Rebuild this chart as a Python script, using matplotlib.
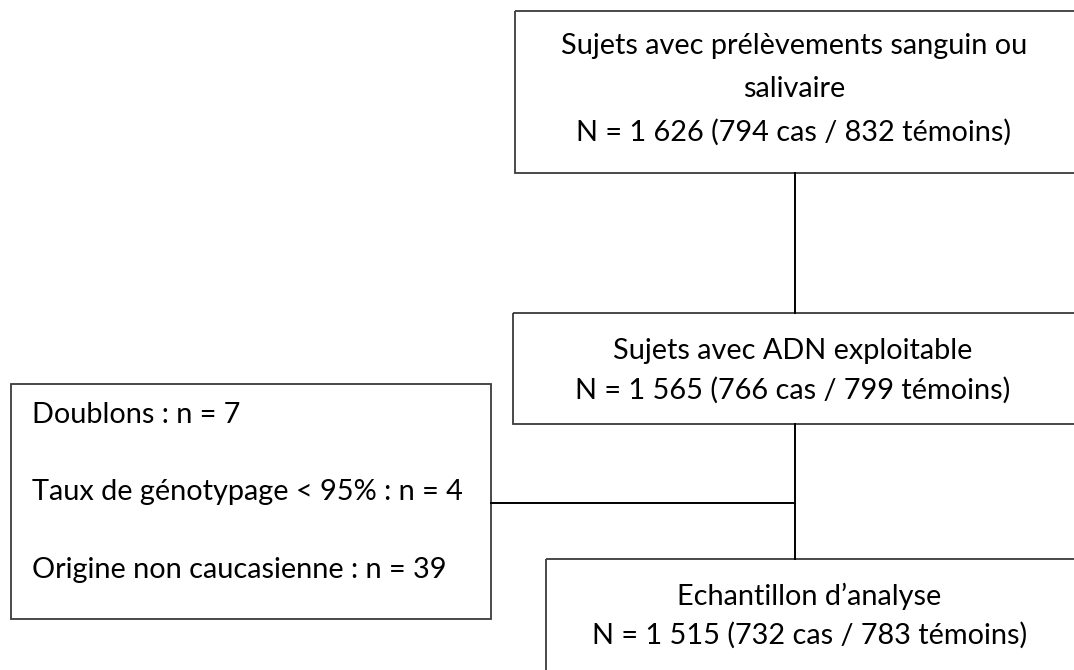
import matplotlib.pyplot as plt
from matplotlib.patches import Rectangle

# flowchart content
main_titles = [
    "Sujets avec prélèvements sanguin ou\nsalivaire",
    "Sujets avec ADN exploitable",
    "Echantillon d\u2019analyse",
]
n_total = [1626, 1565, 1515]
n_cas = [794, 766, 732]
n_temoins = [832, 799, 783]

excl_labels = ["Doublons", "Taux de génotypage < 95%", "Origine non caucasienne"]
excl_counts = [7, 4, 39]

W, H = 1074, 670
EDGE = "#3a3a3a"
FONT = ["Lato", "DejaVu Sans"]
FS = 20.8


def fmt_n(v):
    # french thousands separator (space)
    return f"{v:,}".replace(",", " ")


fig = plt.figure(figsize=(W / 100, H / 100), dpi=100)
ax = fig.add_axes([0, 0, 1, 1])
ax.set_xlim(0, W)
ax.set_ylim(H, 0)
ax.axis("off")

# main boxes: (x0, y0, x1, y1), right/bottom edges run off the page
main_boxes = [(515, 11, 1085, 173), (513, 313, 1085, 424), (546, 559, 1085, 690)]
main_lines_y = [[46, 89, 132], [351, 390], [596, 635]]

for k, (x0, y0, x1, y1) in enumerate(main_boxes):
    ax.add_patch(Rectangle((x0, y0), x1 - x0, y1 - y0, fill=False,
                           edgecolor=EDGE, linewidth=1.3, clip_on=True))
    lines = main_titles[k].split("\n")
    lines.append(f"N = {fmt_n(n_total[k])} ({n_cas[k]} cas / {n_temoins[k]} témoins)")
    cx = (x0 + min(x1, 1073)) / 2
    for line, y in zip(lines, main_lines_y[k]):
        ax.text(cx, y, line, ha="center", va="center", fontsize=FS,
                family=FONT, color="black")

# connectors
x_mid = 795
ax.plot([x_mid, x_mid], [173, 313], color="black", linewidth=1.4)
ax.plot([x_mid, x_mid], [424, 559], color="black", linewidth=1.4)

# exclusion box
ex0, ey0, ex1, ey1 = 11, 384, 491, 619
ax.add_patch(Rectangle((ex0, ey0), ex1 - ex0, ey1 - ey0, fill=False,
                       edgecolor=EDGE, linewidth=1.3))
ax.plot([ex1, x_mid], [503, 503], color="black", linewidth=1.4)

for lab, cnt, y in zip(excl_labels, excl_counts, [415, 492, 570]):
    ax.text(32, y, f"{lab} : n = {cnt}", ha="left", va="center",
            fontsize=FS, family=FONT, color="black")

fig.savefig("out.png", dpi=100, facecolor="white")
